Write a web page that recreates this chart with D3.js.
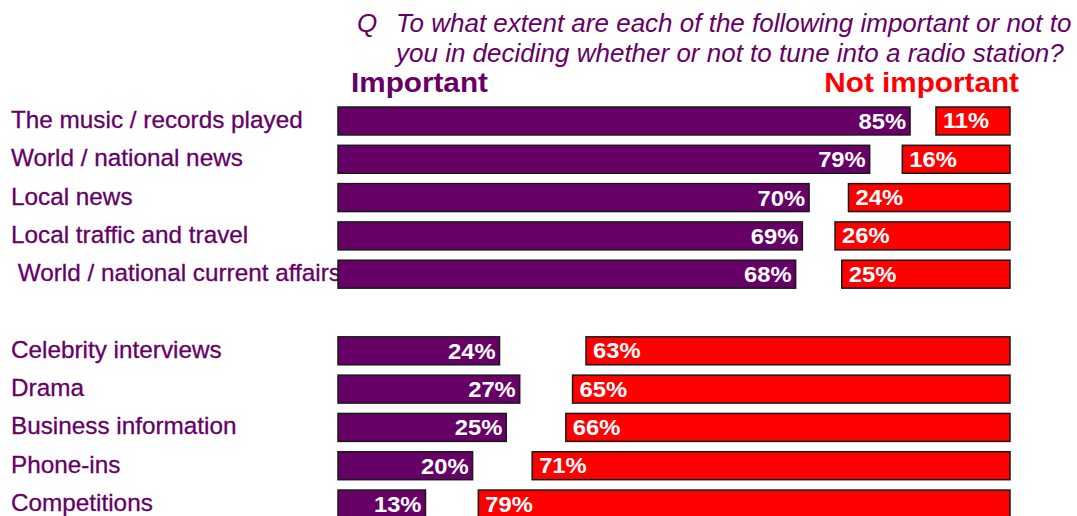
<!DOCTYPE html>
<html>
<head>
<meta charset="utf-8">
<script src="https://cdn.jsdelivr.net/npm/d3@7/dist/d3.min.js"></script>
<style>
  html, body { margin: 0; padding: 0; background: #fff; }
  svg { display: block; font-family: Arial, "Liberation Sans", sans-serif; }
  .cat { white-space: pre; }
</style>
</head>
<body>
<svg id="chart" width="1077" height="516"></svg>
<script>
// Survey items, top group then bottom group
const categories = [
  "The music / records played",
  "World / national news",
  "Local news",
  "Local traffic and travel",
  " World / national current affairs",
  "Celebrity interviews",
  "Drama",
  "Business information",
  "Phone-ins",
  "Competitions"
];
// Share of respondents (%)
const importantValues    = [85, 79, 70, 69, 68, 24, 27, 25, 20, 13];
const notImportantValues = [11, 16, 24, 26, 25, 63, 65, 66, 71, 79];

const questionLines = [
  "To what extent are each of the following important or not to",
  "you in deciding whether or not to tune into a radio station?"
];

const PURPLE = "#660066";
const RED = "#ff0000";

const svg = d3.select("#chart");

// Row slots: a blank slot separates the two groups
const slotOf = i => (i < 5 ? i : i + 1);
const y = d3.scaleBand()
  .domain(d3.range(11))
  .range([107, 518])
  .paddingInner(0.27)
  .paddingOuter(0)
  .align(0);

const xImp = d3.scaleLinear().domain([0, 100]).range([338, 1011]);
const xNot = d3.scaleLinear().domain([0, 100]).range([1010, 337]);

const rows = categories.map((c, i) => ({
  cat: c, imp: importantValues[i], not: notImportantValues[i], slot: slotOf(i)
}));

// Wide-set text: positioned then stretched horizontally about its anchor
const place = (x, y, sx) => `translate(${x},${y}) scale(${sx},1)`;

// Question
svg.append("text")
  .attr("x", 357).attr("y", 32)
  .attr("fill", PURPLE).attr("font-size", 26).attr("font-style", "italic")
  .text("Q");
svg.append("g").selectAll("text").data(questionLines).join("text")
  .attr("x", 396).attr("y", (d, i) => 32 + i * 30)
  .attr("fill", PURPLE).attr("font-size", 26).attr("font-style", "italic")
  .text(d => d);

// Column headers
svg.append("text")
  .attr("transform", place(351, 92, 1.1))
  .attr("fill", PURPLE).attr("font-size", 27).attr("font-weight", "bold")
  .text("Important");
svg.append("text")
  .attr("transform", place(1019, 92, 1.1))
  .attr("text-anchor", "end")
  .attr("fill", RED).attr("font-size", 27).attr("font-weight", "bold")
  .text("Not important");

// Category labels
svg.append("g").selectAll("text").data(rows).join("text")
  .attr("class", "cat")
  .attr("x", 11)
  .attr("y", d => y(d.slot) + y.bandwidth() / 2 + 7)
  .attr("fill", PURPLE).attr("font-size", 24.3)
  .attr("stroke", PURPLE).attr("stroke-width", 0.3)
  .text(d => d.cat);

// Important bars
const gImp = svg.append("g");
gImp.selectAll("rect").data(rows).join("rect")
  .attr("x", xImp(0))
  .attr("y", d => y(d.slot))
  .attr("width", d => xImp(d.imp) - xImp(0))
  .attr("height", y.bandwidth())
  .attr("fill", PURPLE)
  .attr("stroke", "#1a1a1a").attr("stroke-width", 1.5);
gImp.selectAll("text").data(rows).join("text")
  .attr("transform", d => place(xImp(d.imp) - 4, y(d.slot) + y.bandwidth() / 2 + 8, 1.08))
  .attr("text-anchor", "end")
  .attr("fill", "#fff").attr("font-size", 22).attr("font-weight", "bold")
  .text(d => d.imp + "%");

// Not important bars, anchored at the right edge
const gNot = svg.append("g");
gNot.selectAll("rect").data(rows).join("rect")
  .attr("x", d => xNot(d.not))
  .attr("y", d => y(d.slot))
  .attr("width", d => xNot(0) - xNot(d.not))
  .attr("height", y.bandwidth())
  .attr("fill", RED)
  .attr("stroke", "#1a1a1a").attr("stroke-width", 1.5);
gNot.selectAll("text").data(rows).join("text")
  .attr("transform", d => place(xNot(d.not) + 7, y(d.slot) + y.bandwidth() / 2 + 7.5, 1.08))
  .attr("fill", "#fff").attr("font-size", 22).attr("font-weight", "bold")
  .text(d => d.not + "%");
</script>
</body>
</html>
